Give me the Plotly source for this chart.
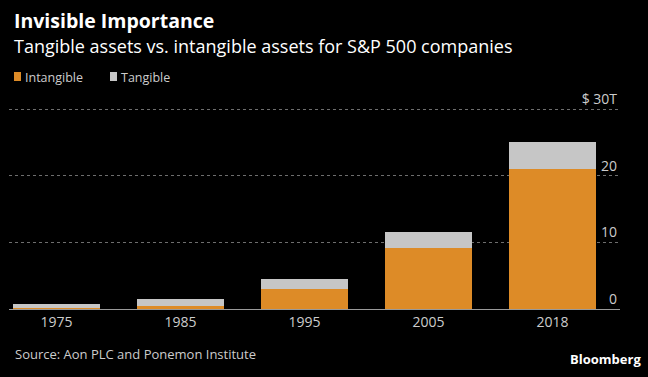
import plotly.graph_objects as go

years = ["1975", "1985", "1995", "2005", "2018"]
intangible = [0.12, 0.46, 3.06, 9.2, 21.0]
tangible = [0.58, 0.99, 1.5, 2.35, 4.1]
y_ticks = [0, 10, 20, 30]
y_tick_text = ["0", "10", "20", "$ 30T"]

ORANGE = "#DD8B27"
GREY = "#C6C6C6"
FONT = "Open Sans"

W, H = 648, 377
ML, MR, MT, MB = 9, 28, 89, 68

fig = go.Figure()
fig.add_bar(x=years, y=intangible, name="Intangible", marker=dict(color=ORANGE, line=dict(width=0)))
fig.add_bar(x=years, y=tangible, name="Tangible", marker=dict(color=GREY, line=dict(width=0)))

fig.update_layout(
    width=W, height=H,
    barmode="stack", bargap=0.30,
    paper_bgcolor="#000000", plot_bgcolor="#000000",
    margin=dict(l=ML, r=MR, t=MT, b=MB),
    font=dict(family=FONT, color="#CCCCCC", size=13),
    showlegend=False,
    xaxis=dict(type="category", range=[-0.383, 4.544], showgrid=False,
               showline=True, linecolor="#9A9A9A", linewidth=1.2,
               ticks="", tickfont=dict(size=14, color="#CCCCCC"), fixedrange=True),
    yaxis=dict(range=[0, 33], tickvals=y_ticks, ticktext=y_tick_text,
               side="right", ticklabelposition="inside top",
               showgrid=True, gridcolor="#6E6E6E", griddash="dot", gridwidth=1,
               zeroline=False, showline=False, ticks="",
               tickfont=dict(size=14, color="#CCCCCC"), fixedrange=True),
)

plot_h = H - MT - MB
plot_w = W - ML - MR

def py(px_y):
    return (H - MB - px_y) / plot_h

def px(px_x):
    return (px_x - ML) / plot_w

def note(text, x, y, xanchor, size, color, yanchor="top"):
    fig.add_annotation(text=text, xref="paper", yref="paper", x=px(x), y=py(y),
                       xanchor=xanchor, yanchor=yanchor, showarrow=False,
                       font=dict(size=size, color=color, family=FONT))

def swatch(x, color):
    fig.add_shape(type="rect", xref="paper", yref="paper",
                  x0=px(x), x1=px(x + 7), y0=py(81), y1=py(72),
                  fillcolor=color, line=dict(width=0))

note("<b>Invisible Importance</b>", 12, 5, "left", 19.5, "#FFFFFF")
note("Tangible assets vs. intangible assets for S&P 500 companies", 12, 32, "left", 18, "#FFFFFF")
swatch(14, ORANGE)
note("Intangible", 23, 77, "left", 12.5, "#CCCCCC", yanchor="middle")
swatch(110, GREY)
note("Tangible", 119, 77, "left", 12.5, "#CCCCCC", yanchor="middle")
note("Source: Aon PLC and Ponemon Institute", 13, 343, "left", 13, "#CCCCCC")
note("<b>Bloomberg</b>", 643, 348, "right", 13, "#FFFFFF")

fig.write_html("out.html", config={"displayModeBar": False},
               post_script="document.body.style.margin='0';document.body.style.background='#000';")
